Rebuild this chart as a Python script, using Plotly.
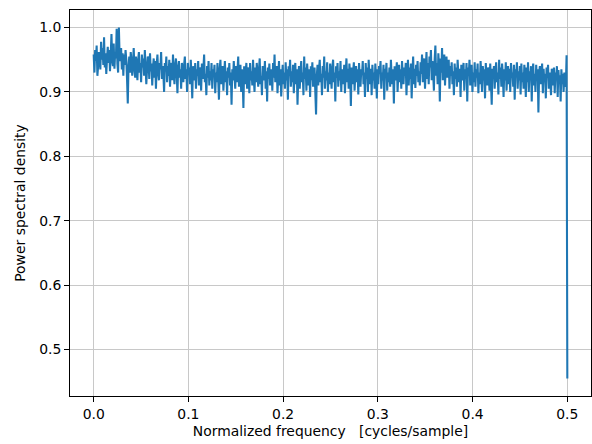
import numpy as np
import plotly.graph_objects as go

# PSD values (normalized frequency 0 .. 0.5)
psd = [
    .958,.930,.965,.948,.972,.925,.940,.962,.955,.935,.978,.950,.968,.942,.985,.938,.960,.928,.952,.970,
    .945,.965,.932,.958,.990,.948,.940,.975,.936,.962,.952,.998,.944,.930,1.0,.955,.948,.968,.935,.960,
    .925,.958,.942,.965,.950,.920,.882,.940,.955,.930,.962,.948,.925,.945,.968,.935,.922,.955,.940,.918,
    .950,.962,.930,.945,.915,.958,.938,.952,.925,.965,.940,.912,.935,.955,.948,.920,.960,.932,.944,.910,
    .938,.952,.922,.948,.905,.942,.958,.930,.918,.945,.935,.962,.920,.940,.928,.900,.945,.932,.955,.915,
    .940,.925,.950,.908,.935,.945,.918,.958,.930,.912,.942,.952,.928,.898,.938,.948,.922,.935,.905,.945,
    .930,.915,.942,.955,.920,.935,.900,.945,.928,.938,.912,.950,.925,.890,.940,.932,.918,.945,.905,.935,
    .925,.948,.910,.938,.930,.902,.944,.920,.935,.958,.915,.928,.895,.940,.922,.948,.910,.932,.918,.945,
    .905,.935,.925,.942,.898,.930,.915,.945,.920,.888,.935,.950,.912,.928,.940,.902,.925,.948,.915,.932,
    .895,.938,.922,.945,.910,.930,.880,.935,.918,.948,.925,.905,.940,.915,.932,.955,.908,.928,.942,.900,
    .935,.920,.875,.940,.912,.930,.945,.905,.925,.938,.898,.945,.918,.932,.910,.950,.922,.900,.938,.915,
    .945,.928,.908,.935,.952,.912,.925,.895,.940,.930,.918,.948,.905,.932,.885,.938,.920,.944,.910,.928,
    .935,.902,.945,.922,.958,.915,.930,.940,.898,.925,.948,.910,.935,.893,.920,.942,.912,.930,.905,.946,
    .918,.935,.888,.940,.925,.950,.908,.932,.915,.942,.898,.928,.945,.912,.935,.880,.922,.940,.905,.930,
    .948,.915,.930,.895,.955,.920,.938,.902,.944,.925,.910,.935,.892,.940,.918,.946,.908,.928,.938,.900,
    .865,.925,.942,.910,.935,.950,.915,.928,.895,.940,.922,.955,.905,.932,.918,.946,.900,.930,.912,.944,
    .925,.905,.938,.950,.915,.930,.885,.940,.922,.945,.908,.932,.918,.948,.900,.935,.925,.912,.942,.898,
    .930,.952,.915,.936,.905,.944,.925,.878,.938,.912,.930,.946,.902,.928,.940,.915,.935,.896,.945,.920,
    .908,.935,.926,.948,.912,.930,.892,.945,.920,.938,.900,.950,.925,.912,.936,.895,.942,.918,.930,.905,
    .944,.922,.890,.935,.912,.940,.928,.948,.905,.930,.918,.942,.888,.936,.925,.945,.902,.930,.915,.938,
    .908,.950,.925,.912,.935,.882,.940,.918,.930,.946,.900,.928,.942,.915,.935,.905,.948,.922,.912,.938,
    .925,.945,.895,.932,.950,.910,.938,.920,.944,.890,.930,.955,.912,.936,.906,.942,.925,.948,.915,.932,
    .910,.946,.928,.958,.915,.940,.952,.905,.935,.962,.920,.945,.912,.955,.938,.965,.918,.948,.930,.902,
    .950,.972,.925,.945,.912,.960,.938,.885,.952,.930,.968,.918,.945,.958,.910,.940,.955,.922,.935,.950,
    .905,.940,.925,.946,.912,.932,.895,.944,.920,.938,.908,.950,.928,.915,.936,.892,.942,.918,.930,.945,
    .902,.935,.920,.945,.885,.938,.925,.950,.910,.932,.942,.900,.930,.915,.946,.908,.935,.922,.944,.898,
    .930,.912,.948,.925,.900,.940,.918,.935,.890,.945,.922,.910,.938,.928,.902,.944,.915,.880,.936,.925,
    .940,.905,.932,.946,.915,.930,.896,.950,.920,.938,.908,.944,.926,.892,.935,.918,.946,.902,.930,.940,
    .912,.936,.900,.945,.922,.930,.908,.942,.888,.935,.925,.946,.905,.932,.918,.940,.896,.944,.915,.930,
    .905,.942,.926,.892,.938,.915,.946,.900,.932,.920,.940,.885,.934,.944,.910,.928,.900,.942,.918,.935,
    .868,.930,.940,.912,.925,.944,.898,.936,.915,.928,.890,.938,.922,.942,.905,.930,.918,.895,.936,.926,
    .910,.938,.898,.930,.920,.940,.892,.934,.915,.926,.885,.935,.912,.928,.900,.930,.918,.908,.957,.455,
]
freq = np.linspace(0.0, 0.5, len(psd))

x_ticks = [0.0, 0.1, 0.2, 0.3, 0.4, 0.5]
y_ticks = [0.5, 0.6, 0.7, 0.8, 0.9, 1.0]

FONT = "DejaVu Sans, sans-serif"
FS = 13.9

fig = go.Figure()
fig.add_trace(go.Scatter(x=freq, y=psd, mode="lines",
                         line=dict(color="#1f77b4", width=2.08, simplify=False),
                         showlegend=False))

axis_common = dict(
    showline=True, linecolor="black", linewidth=1, mirror=True,
    ticks="outside", ticklen=5, tickcolor="black", tickwidth=1,
    showgrid=True, gridcolor="#c8c8c8", gridwidth=1, zeroline=False,
    tickfont=dict(family=FONT, size=FS, color="black"),
    tickformat=".1f",
)

fig.update_layout(
    width=592, height=444,
    margin=dict(l=70, r=1, t=10, b=48),
    paper_bgcolor="white", plot_bgcolor="white",
    font=dict(family=FONT, size=FS, color="black"),
    xaxis=dict(range=[-0.025, 0.525], tickvals=x_ticks,
               title=dict(text="Normalized frequency&nbsp;&nbsp;&nbsp;[cycles/sample]", standoff=5,
                          font=dict(family=FONT, size=FS)),
               **axis_common),
    yaxis=dict(range=[0.4278, 1.0272], tickvals=y_ticks,
               title=dict(text="Power spectral density", standoff=10,
                          font=dict(family=FONT, size=FS)),
               **axis_common),
)

fig.write_html("out.html")
